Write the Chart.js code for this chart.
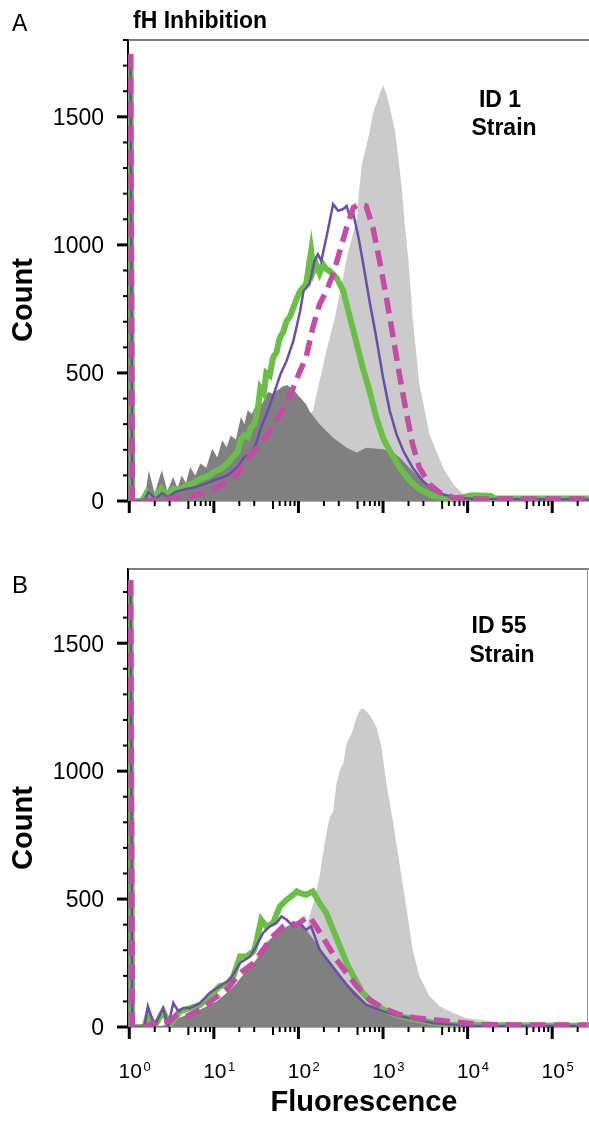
<!DOCTYPE html>
<html>
<head>
<meta charset="utf-8">
<script src="https://cdn.jsdelivr.net/npm/chart.js@4.4.1/dist/chart.umd.min.js"></script>
<style>
body { margin:0; background:#fff; width:589px; height:1121px; position:relative; overflow:hidden; font-family:"Liberation Sans", Arial, Helvetica, sans-serif; }
.wrap { position:absolute; left:0; width:589px; }
#wrapA { top:0; height:540px; }
#wrapB { top:540px; height:581px; }
.lbl { position:absolute; color:#000; white-space:nowrap; line-height:1; }
.b { font-weight:bold; }
.rot { transform: translate(-50%, -50%) rotate(-90deg); }
.ctr { transform: translateX(-50%); }
</style>
</head>
<body>
<div class="wrap" id="wrapA"><canvas id="chartA" width="589" height="540"></canvas></div>
<div class="wrap" id="wrapB"><canvas id="chartB" width="589" height="581"></canvas></div>

<div class="lbl" style="left:12px; top:12px; font-size:23px;">A</div>
<div class="lbl b" style="left:133px; top:9px; font-size:23px;">fH Inhibition</div>
<div class="lbl b ctr" style="left:500px; top:88px; font-size:23px;">ID 1</div>
<div class="lbl b ctr" style="left:504px; top:116px; font-size:23px;">Strain</div>
<div class="lbl b rot" style="left:22px; top:300px; font-size:29px;">Count</div>

<div class="lbl" style="left:12px; top:573px; font-size:24px;">B</div>
<div class="lbl b ctr" style="left:499px; top:614px; font-size:23px;">ID 55</div>
<div class="lbl b ctr" style="left:502px; top:643px; font-size:23px;">Strain</div>
<div class="lbl b rot" style="left:22px; top:828px; font-size:29px;">Count</div>
<div class="lbl b ctr" style="left:364px; top:1087px; font-size:29px;">Fluorescence</div>

<script>
// x values are log10(fluorescence), y values are cell counts

// axis ticks
const yTickLabels = [0, 500, 1000, 1500];
const decades = [0, 1, 2, 3, 4, 5];
const minorSteps = [2, 3, 5, 6, 7, 8, 9];

// panel A - ID 1 strain
const aLight = [[0.03,0],[1.0,20],[1.5,110],[1.9,240],[2.1,320],[2.17,351],[2.25,470],[2.33,586],[2.43,716],[2.51,846],[2.59,977],[2.69,1100],[2.71,1187],[2.75,1318],[2.79,1369],[2.84,1440],[2.88,1512],[2.95,1580],[3.0,1623],[3.04,1590],[3.08,1538],[3.14,1447],[3.18,1343],[3.22,1226],[3.26,1070],[3.3,940],[3.35,716],[3.43,456],[3.55,260],[3.71,130],[3.83,65],[3.95,26],[4.18,10],[4.6,5],[5.45,3]];
const aDark = [[-0.02,1735],[0.015,1735],[0.035,0],[0.18,0],[0.23,120],[0.30,30],[0.385,120],[0.45,40],[0.52,94],[0.57,50],[0.62,100],[0.67,70],[0.72,133],[0.78,100],[0.84,146],[0.91,130],[0.98,204],[1.04,170],[1.10,237],[1.15,210],[1.20,256],[1.26,240],[1.32,328],[1.36,300],[1.40,354],[1.45,340],[1.52,393],[1.57,380],[1.64,426],[1.70,420],[1.75,432],[1.82,449],[1.87,452],[1.95,430],[2.02,404],[2.09,378],[2.13,351],[2.25,300],[2.41,247],[2.57,208],[2.69,189],[2.80,208],[3.0,202],[3.12,189],[3.20,169],[3.35,117],[3.51,65],[3.67,26],[3.83,7],[4.2,2],[5.45,0]];
const aGreen = [[-0.02,1735],[0.015,1735],[0.035,0],[0.15,0],[0.21,35],[0.29,10],[0.38,48],[0.46,20],[0.52,48],[0.6,45],[0.68,61],[0.76,70],[0.84,87],[0.92,95],[1.0,113],[1.08,125],[1.16,146],[1.22,170],[1.28,191],[1.32,240],[1.36,256],[1.40,250],[1.44,289],[1.48,300],[1.52,360],[1.55,440],[1.59,420],[1.62,500],[1.66,490],[1.70,560],[1.74,580],[1.78,638],[1.82,660],[1.86,703],[1.90,720],[1.94,755],[1.98,790],[2.02,820],[2.06,835],[2.09,846],[2.15,977],[2.18,900],[2.21,924],[2.25,890],[2.29,924],[2.33,905],[2.37,898],[2.45,872],[2.53,820],[2.61,716],[2.69,612],[2.76,521],[2.84,430],[2.92,326],[3.0,247],[3.08,195],[3.2,130],[3.32,78],[3.43,46],[3.59,20],[3.79,10],[3.95,15],[4.05,22],[4.27,20],[4.32,10],[5.45,10]];
const aPurple = [[-0.02,1735],[0.015,1735],[0.035,0],[0.17,0],[0.23,35],[0.31,9],[0.39,31],[0.46,15],[0.54,35],[0.68,48],[0.76,52],[0.84,61],[0.92,70],[1.0,81],[1.08,90],[1.16,100],[1.22,115],[1.28,133],[1.36,172],[1.44,185],[1.5,224],[1.56,289],[1.6,320],[1.64,354],[1.71,419],[1.79,497],[1.86,547],[1.94,625],[2.02,742],[2.06,820],[2.13,846],[2.19,937],[2.23,963],[2.27,937],[2.33,1029],[2.41,1159],[2.47,1133],[2.53,1140],[2.57,1152],[2.61,1107],[2.65,1120],[2.71,1029],[2.76,937],[2.84,781],[2.92,638],[3.0,482],[3.08,351],[3.16,260],[3.24,195],[3.35,130],[3.47,78],[3.59,46],[3.71,26],[3.87,13],[4.1,8],[5.45,6]];
const aMagenta = [[-0.02,1735],[0.015,1735],[0.035,0],[0.2,0],[0.27,3],[0.48,9],[0.68,16],[0.8,25],[0.92,35],[1.08,61],[1.24,94],[1.36,146],[1.48,198],[1.56,224],[1.64,263],[1.79,341],[1.91,419],[2.02,508],[2.09,560],[2.17,677],[2.25,768],[2.33,820],[2.41,885],[2.49,977],[2.57,1068],[2.65,1146],[2.72,1159],[2.8,1152],[2.88,1068],[2.96,937],[3.04,794],[3.12,638],[3.2,482],[3.28,338],[3.35,221],[3.43,130],[3.55,65],[3.67,33],[3.83,13],[4.1,8],[5.45,8]];

// panel B - ID 55 strain
const bLight = [[0.03,0],[0.8,0],[1.2,30],[1.6,120],[1.9,250],[2.05,340],[2.13,432],[2.19,500],[2.25,589],[2.31,719],[2.37,823],[2.41,840],[2.45,953],[2.49,1005],[2.53,1030],[2.57,1109],[2.63,1148],[2.69,1213],[2.73,1240],[2.76,1246],[2.8,1235],[2.84,1220],[2.92,1174],[2.98,1096],[3.04,953],[3.12,797],[3.2,628],[3.28,458],[3.35,302],[3.43,198],[3.55,120],[3.67,81],[3.83,55],[3.98,35],[4.18,26],[4.38,18],[4.8,10],[5.45,6]];
const bDark = [[-0.02,1735],[0.015,1735],[0.035,0],[0.3,0],[0.44,9],[0.52,29],[0.64,42],[0.84,68],[1.03,100],[1.15,133],[1.27,172],[1.39,224],[1.5,263],[1.62,328],[1.74,367],[1.86,393],[1.98,412],[2.03,400],[2.09,380],[2.21,328],[2.33,276],[2.45,224],[2.57,172],[2.69,133],[2.8,94],[2.96,61],[3.12,42],[3.32,22],[3.59,9],[4.2,3],[5.45,2]];
const bGreen = [[-0.02,1735],[0.015,1735],[0.035,0],[0.18,0],[0.22,48],[0.3,3],[0.4,61],[0.48,9],[0.6,61],[0.72,74],[0.84,87],[0.95,120],[1.07,159],[1.15,165],[1.23,198],[1.31,276],[1.39,276],[1.47,296],[1.5,328],[1.56,419],[1.62,393],[1.7,406],[1.78,471],[1.86,497],[1.94,517],[1.98,530],[2.02,523],[2.09,517],[2.17,530],[2.25,484],[2.33,445],[2.41,380],[2.49,315],[2.57,250],[2.65,198],[2.76,133],[2.88,94],[3.04,61],[3.2,42],[3.39,29],[3.59,18],[3.79,9],[4.3,7],[5.45,5]];
const bPurple = [[-0.02,1735],[0.015,1735],[0.035,0],[0.18,0],[0.22,81],[0.3,3],[0.4,74],[0.46,3],[0.52,94],[0.58,61],[0.64,74],[0.72,74],[0.84,94],[0.95,133],[1.07,159],[1.19,185],[1.31,250],[1.43,276],[1.5,315],[1.58,367],[1.66,393],[1.74,406],[1.8,432],[1.86,419],[1.94,393],[2.02,406],[2.09,380],[2.15,393],[2.25,302],[2.37,250],[2.49,198],[2.65,133],[2.8,87],[3.0,61],[3.2,42],[3.39,29],[3.59,16],[3.98,5],[5.45,4]];
const bMagenta = [[-0.02,1735],[0.015,1735],[0.035,0],[0.2,0],[0.28,16],[0.48,22],[0.56,48],[0.68,42],[0.84,68],[0.99,107],[1.15,146],[1.31,211],[1.47,250],[1.58,302],[1.7,354],[1.82,393],[1.9,406],[1.98,400],[2.06,419],[2.13,432],[2.21,393],[2.33,328],[2.45,263],[2.57,211],[2.69,159],[2.84,107],[3.0,74],[3.2,48],[3.39,35],[3.59,29],[3.79,22],[3.98,16],[4.18,9],[4.6,8],[5.45,8]];

const FONT = '"Liberation Sans", Arial, Helvetica, sans-serif';

function toXY(arr) {
    return arr.map(p => ({ x: p[0], y: p[1] }));
}

// draws the axis ticks, tick labels and the frame lines
const axisTicks = {
    id: 'axisTicks',
    afterDraw(chart, args, opts) {
        const ctx = chart.ctx;
        const xs = chart.scales.x;
        const ys = chart.scales.y;
        const a = chart.chartArea;
        ctx.save();
        // top frame (and right frame on panel B)
        ctx.strokeStyle = '#555';
        ctx.lineWidth = 1.5;
        ctx.beginPath();
        ctx.moveTo(a.left, a.top);
        ctx.lineTo(a.right, a.top);
        ctx.stroke();
        if (opts.rightFrame) {
            ctx.strokeStyle = '#999';
            ctx.lineWidth = 1;
            ctx.beginPath();
            ctx.moveTo(a.right - 1.5, a.top);
            ctx.lineTo(a.right - 1.5, a.bottom);
            ctx.stroke();
        }

        ctx.strokeStyle = '#000';
        ctx.fillStyle = '#000';
        // y ticks, every 100 with major every 500
        for (let v = 0; v <= ys.max; v += 100) {
            const y = ys.getPixelForValue(v);
            const major = yTickLabels.includes(v);
            ctx.lineWidth = major ? 3 : 2;
            ctx.beginPath();
            ctx.moveTo(a.left - (major ? 11 : 5), y);
            ctx.lineTo(a.left, y);
            ctx.stroke();
        }
        ctx.font = '23px ' + FONT;
        ctx.textAlign = 'right';
        ctx.textBaseline = 'alphabetic';
        yTickLabels.forEach(v => {
            ctx.fillText(String(v), a.left - 24, ys.getPixelForValue(v) + 8.3);
        });

        // x ticks, log decades
        decades.forEach(d => {
            let x = xs.getPixelForValue(d);
            ctx.lineWidth = 3;
            ctx.beginPath();
            ctx.moveTo(x, a.bottom);
            ctx.lineTo(x, a.bottom + 12);
            ctx.stroke();
            minorSteps.forEach(m => {
                const v = d + Math.log10(m);
                if (v > xs.max) return;
                x = xs.getPixelForValue(v);
                ctx.lineWidth = 2;
                ctx.beginPath();
                ctx.moveTo(x, a.bottom);
                ctx.lineTo(x, a.bottom + (m === 5 ? 8 : 5));
                ctx.stroke();
            });
        });

        if (opts.labels) {
            decades.forEach(d => {
                const x = xs.getPixelForValue(d);
                ctx.font = '21px ' + FONT;
                ctx.textAlign = 'center';
                const w = ctx.measureText('10').width;
                ctx.fillText('10', x + 1, a.bottom + 50.7);
                ctx.font = '13px ' + FONT;
                ctx.textAlign = 'left';
                ctx.fillText(String(d), x + 1 + w / 2 + 1.5, a.bottom + 43.5);
            });
        }
        ctx.restore();
    }
};

function makeChart(id, series, yMax, padTop, plotBottom, showLabels) {
    const canvas = document.getElementById(id);
    const fills = { borderWidth: 0, fill: 'origin', pointRadius: 0, tension: 0 };
    return new Chart(canvas.getContext('2d'), {
        type: 'line',
        data: {
            datasets: [
                Object.assign({ label: 'control', data: toXY(series.light), backgroundColor: '#cbcbcb', borderColor: '#cbcbcb', order: 5 }, fills),
                Object.assign({ label: 'unstained', data: toXY(series.dark), backgroundColor: '#808080', borderColor: '#808080', order: 4 }, fills),
                { label: 'green', data: toXY(series.green), borderColor: '#6abf46', borderWidth: 6, fill: false, pointRadius: 0, tension: 0, order: 3 },
                { label: 'purple', data: toXY(series.purple), borderColor: '#6b4ea8', borderWidth: 2.5, fill: false, pointRadius: 0, tension: 0, order: 2 },
                { label: 'magenta', data: toXY(series.magenta), borderColor: '#c44ca7', borderWidth: 5.5, borderDash: [16, 8], fill: false, pointRadius: 0, tension: 0, order: 1 }
            ]
        },
        options: {
            responsive: false,
            animation: false,
            devicePixelRatio: 1,
            layout: { padding: { top: padTop, left: 0, right: 0, bottom: 0 } },
            plugins: {
                legend: { display: false },
                tooltip: { enabled: false },
                axisTicks: { labels: showLabels, rightFrame: showLabels }
            },
            scales: {
                x: {
                    type: 'linear',
                    min: -0.015,
                    max: 5.435,
                    grid: { display: false },
                    border: { display: true, color: '#555', width: 1.5 },
                    ticks: { display: false },
                    afterFit: s => { s.height = canvas.height - plotBottom; }
                },
                y: {
                    min: 0,
                    max: yMax,
                    grid: { display: false },
                    border: { display: true, color: '#000', width: 2 },
                    ticks: { display: false },
                    afterFit: s => { s.width = 128; }
                }
            }
        },
        plugins: [axisTicks]
    });
}

makeChart('chartA', { light: aLight, dark: aDark, green: aGreen, purple: aPurple, magenta: aMagenta }, 1800, 40, 501, false);
makeChart('chartB', { light: bLight, dark: bDark, green: bGreen, purple: bPurple, magenta: bMagenta }, 1790, 29, 487, true);
</script>
</body>
</html>
